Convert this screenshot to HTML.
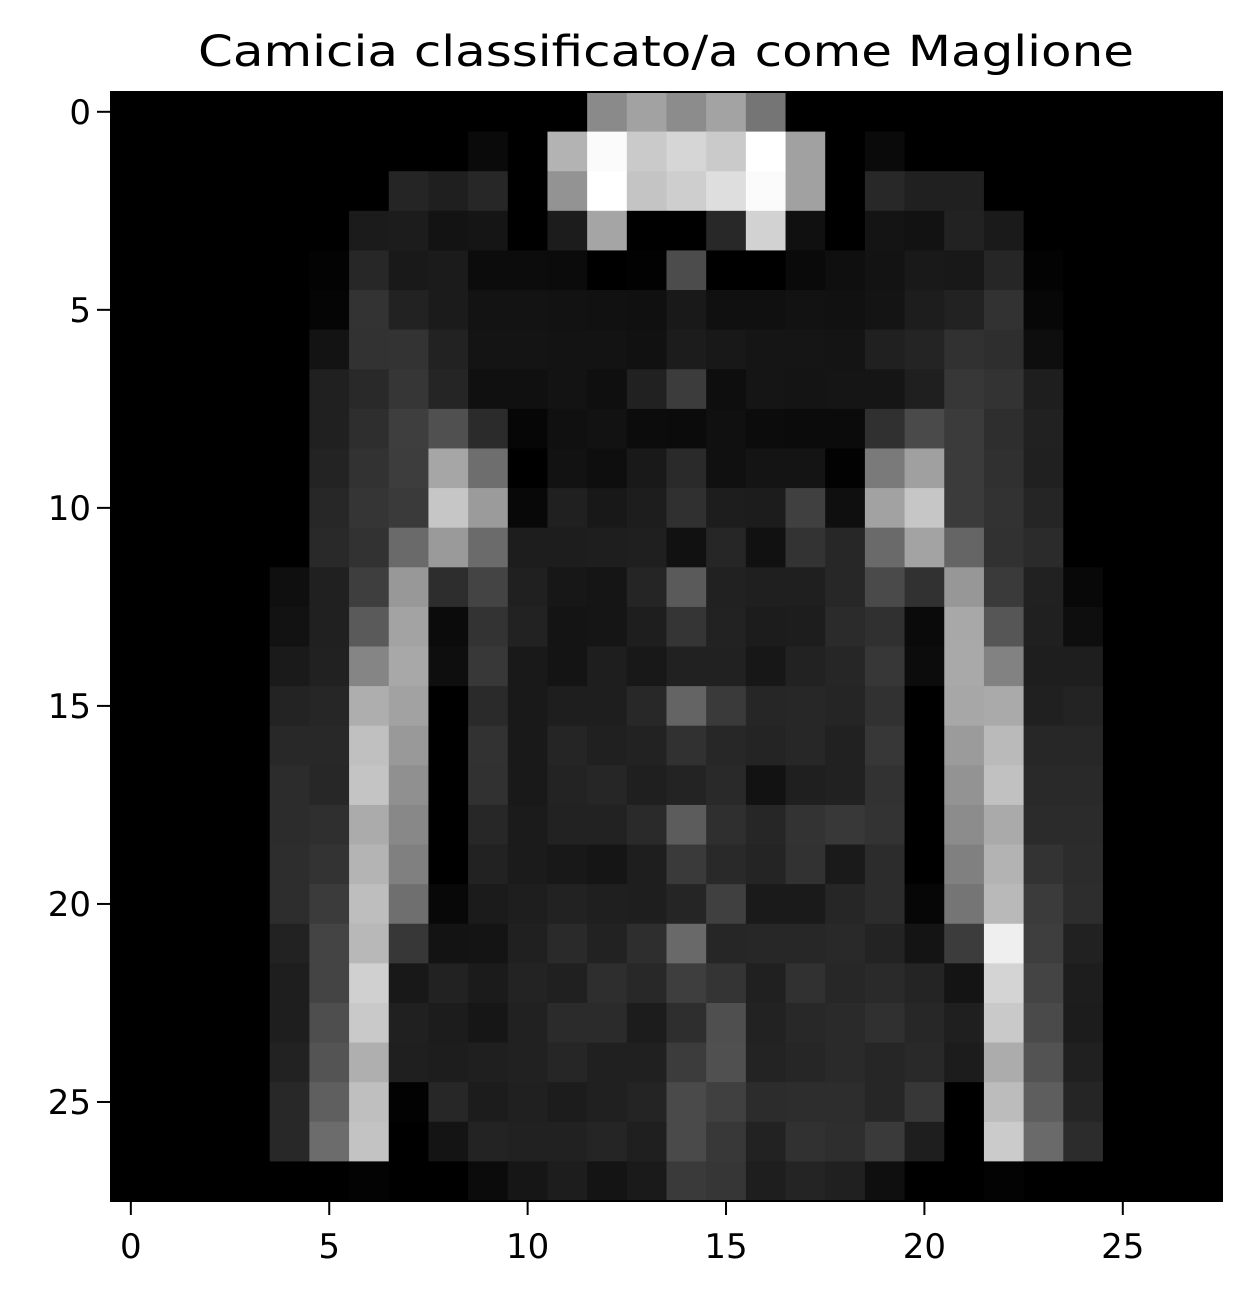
<!DOCTYPE html>
<html><head><meta charset="utf-8"><style>
html,body{margin:0;padding:0;background:#fff;}
svg{display:block;font-family:"DejaVu Sans","Liberation Sans",sans-serif;}
</style></head><body>
<svg id="chart" width="1250" height="1302" viewBox="0 0 1250 1302">
<text x="666" y="66" font-size="43" text-anchor="middle" fill="#000" textLength="936" lengthAdjust="spacingAndGlyphs">Camicia classificato/a come Maglione</text>
<g id="cells"></g>
<g id="axes"></g>
</svg>
<script>
const pixelRows = [
[0,0,0,0,0,0,0,0,0,0,0,0,0x8a,0xa2,0x8c,0xa3,0x75,0,0,0,0,0,0,0,0,0,0,0],
[0,0,0,0,0,0,0,0,0,0x0a,0,0xb3,0xfb,0xca,0xd6,0xca,0xff,0xa1,0,0x0a,0,0,0,0,0,0,0,0],
[0,0,0,0,0,0,0,0x25,0x1f,0x27,0,0x93,0xff,0xc4,0xce,0xde,0xfb,0xa1,0,0x28,0x20,0x20,0,0,0,0,0,0],
[0,0,0,0,0,0,0x1b,0x1c,0x13,0x15,0,0x1c,0xa5,0,0,0x28,0xd2,0x10,0,0x14,0x12,0x22,0x1a,0,0,0,0,0],
[0,0,0,0,0,3,0x27,0x19,0x1b,0x0c,0x0c,0x0b,0,2,0x4c,0,0,0x0a,0x0f,0x13,0x19,0x18,0x26,3,0,0,0,0],
[0,0,0,0,0,5,0x33,0x22,0x1b,0x13,0x13,0x12,0x11,0x10,0x19,0x10,0x10,0x12,0x11,0x14,0x1d,0x22,0x32,7,0,0,0,0],
[0,0,0,0,0,0x13,0x32,0x33,0x22,0x14,0x14,0x13,0x13,0x11,0x1c,0x18,0x15,0x15,0x14,0x20,0x24,0x31,0x2e,0x0e,0,0,0,0],
[0,0,0,0,0,0x20,0x29,0x36,0x25,0x10,0x10,0x13,0x0f,0x21,0x3c,0x0e,0x15,0x14,0x15,0x15,0x1f,0x37,0x33,0x1e,0,0,0,0],
[0,0,0,0,0,0x20,0x2e,0x3e,0x50,0x2b,6,0x10,0x12,0x0c,0x0b,0x10,0x0c,0x0b,0x0b,0x30,0x4a,0x3b,0x2e,0x21,0,0,0,0],
[0,0,0,0,0,0x23,0x32,0x3d,0xa6,0x6e,0,0x12,0x0e,0x19,0x2a,0x10,0x14,0x14,2,0x7a,0xa0,0x3b,0x30,0x20,0,0,0,0],
[0,0,0,0,0,0x27,0x35,0x3a,0xc6,0x9b,8,0x20,0x18,0x1d,0x30,0x1d,0x1c,0x40,0x0f,0xa2,0xc6,0x3b,0x32,0x25,0,0,0,0],
[0,0,0,0,0,0x29,0x32,0x6a,0x9a,0x6b,0x1d,0x1d,0x1e,0x1f,0x11,0x26,0x11,0x33,0x27,0x6a,0xa3,0x65,0x31,0x2b,0,0,0,0],
[0,0,0,0,0x0f,0x20,0x3e,0x98,0x2d,0x44,0x20,0x17,0x15,0x25,0x5a,0x21,0x1f,0x1f,0x27,0x4a,0x31,0x97,0x3a,0x21,8,0,0,0],
[0,0,0,0,0x12,0x20,0x5a,0xa3,0x0b,0x33,0x22,0x14,0x15,0x1e,0x35,0x22,0x1c,0x1d,0x2b,0x30,0x0a,0xa8,0x56,0x20,0x0e,0,0,0],
[0,0,0,0,0x1a,0x21,0x85,0xa8,0x0e,0x38,0x19,0x14,0x1e,0x18,0x21,0x21,0x17,0x22,0x26,0x37,0x0c,0xa9,0x82,0x1e,0x1e,0,0,0],
[0,0,0,0,0x23,0x26,0xae,0xa2,0,0x2a,0x19,0x1e,0x1e,0x28,0x64,0x3a,0x26,0x27,0x25,0x31,0,0xa7,0xaa,0x20,0x23,0,0,0],
[0,0,0,0,0x28,0x28,0xc0,0x99,0,0x32,0x19,0x25,0x20,0x22,0x31,0x27,0x24,0x27,0x21,0x37,0,0x9b,0xba,0x27,0x27,0,0,0],
[0,0,0,0,0x2c,0x27,0xc4,0x90,0,0x31,0x19,0x23,0x26,0x1f,0x23,0x29,0x12,0x1f,0x21,0x32,0,0x93,0xc1,0x29,0x29,0,0,0],
[0,0,0,0,0x2c,0x2f,0xab,0x88,0,0x27,0x1b,0x22,0x22,0x2a,0x5c,0x2f,0x26,0x33,0x38,0x33,0,0x8c,0xaa,0x2b,0x2b,0,0,0],
[0,0,0,0,0x2d,0x33,0xb4,0x80,0,0x22,0x1b,0x18,0x15,0x1e,0x3a,0x29,0x24,0x32,0x1a,0x2c,0,0x80,0xb3,0x33,0x2c,0,0,0],
[0,0,0,0,0x2d,0x3b,0xbe,0x6f,8,0x1b,0x1e,0x22,0x1f,0x1e,0x25,0x40,0x1a,0x1a,0x26,0x2c,6,0x75,0xb9,0x3b,0x2d,0,0,0],
[0,0,0,0,0x22,0x44,0xb8,0x37,0x13,0x14,0x20,0x2a,0x22,0x2e,0x69,0x26,0x27,0x27,0x29,0x23,0x14,0x3c,0xef,0x3e,0x21,0,0,0],
[0,0,0,0,0x1e,0x44,0xd0,0x18,0x22,0x1b,0x23,0x20,0x2e,0x28,0x3e,0x34,0x20,0x31,0x27,0x2a,0x24,0x14,0xd4,0x44,0x1d,0,0,0],
[0,0,0,0,0x1e,0x4e,0xc9,0x20,0x1c,0x16,0x21,0x2b,0x2b,0x1c,0x2e,0x4f,0x22,0x28,0x2a,0x30,0x27,0x1f,0xc9,0x4a,0x1c,0,0,0],
[0,0,0,0,0x22,0x54,0xaf,0x1f,0x1d,0x1f,0x21,0x26,0x20,0x20,0x3c,0x50,0x23,0x26,0x2a,0x26,0x29,0x1c,0xac,0x53,0x20,0,0,0],
[0,0,0,0,0x28,0x5f,0xbf,2,0x27,0x1c,0x20,0x1c,0x20,0x24,0x4a,0x40,0x2c,0x2d,0x2d,0x26,0x37,0,0xbc,0x5e,0x25,0,0,0],
[0,0,0,0,0x28,0x6c,0xc3,0,0x14,0x23,0x21,0x21,0x25,0x1f,0x4a,0x38,0x22,0x31,0x2e,0x3a,0x1e,0,0xcb,0x6a,0x2c,0,0,0],
[0,0,0,0,0,0,3,0,0,0x0b,0x16,0x1d,0x14,0x1a,0x3a,0x36,0x1e,0x24,0x20,0x0f,0,0,3,0,0,0,0,0]
];
const xTicks = [0,5,10,15,20,25];
const yTicks = [0,5,10,15,20,25];

const NS = "http://www.w3.org/2000/svg";
const L = 111, R = 1222, T = 92, B = 1201;
const nCols = pixelRows[0].length, nRows = pixelRows.length;
const cw = (R - L) / nCols, ch = (B - T) / nRows;
const xPos = c => L + (c + 0.5) * cw;
const yPos = r => T + (r + 0.5) * ch;
const vmin = Math.min(...pixelRows.flat()), vmax = Math.max(...pixelRows.flat());
const gray = v => { const g = Math.round((v - vmin) / ((vmax - vmin) || 1) * 255); return `rgb(${g},${g},${g})`; };

const cells = document.getElementById('cells');
pixelRows.forEach((row, r) => row.forEach((v, c) => {
  const el = document.createElementNS(NS, 'rect');
  
  
  el.setAttribute('x', (xPos(c) - cw / 2).toFixed(2));
  el.setAttribute('y', (yPos(r) - ch / 2).toFixed(2));
  el.setAttribute('width', (cw + 0.6).toFixed(2));
  el.setAttribute('height', (ch + 0.6).toFixed(2));
  el.setAttribute('fill', gray(v));
  cells.appendChild(el);
}));

const axes = document.getElementById('axes');
const frame = document.createElementNS(NS, 'rect');


frame.setAttribute('x', L); frame.setAttribute('y', T);
frame.setAttribute('width', R - L); frame.setAttribute('height', B - T);
frame.setAttribute('fill', 'none'); frame.setAttribute('stroke', '#000'); frame.setAttribute('stroke-width', '2');
axes.appendChild(frame);

xTicks.forEach(t => {
  const x = xPos(t);
  const ln = document.createElementNS(NS, 'line');
  
  
  ln.setAttribute('x1', x); ln.setAttribute('x2', x);
  ln.setAttribute('y1', B); ln.setAttribute('y2', B + 14);
  ln.setAttribute('stroke', '#000'); ln.setAttribute('stroke-width', '2');
  axes.appendChild(ln);
  const tx = document.createElementNS(NS, 'text');
  
  
  tx.setAttribute('x', x); tx.setAttribute('y', B + 57);
  tx.setAttribute('font-size', '34'); tx.setAttribute('text-anchor', 'middle');
  tx.textContent = t;
  axes.appendChild(tx);
});
yTicks.forEach(t => {
  const y = yPos(t);
  const ln = document.createElementNS(NS, 'line');
  
  
  ln.setAttribute('x1', L - 14); ln.setAttribute('x2', L);
  ln.setAttribute('y1', y); ln.setAttribute('y2', y);
  ln.setAttribute('stroke', '#000'); ln.setAttribute('stroke-width', '2');
  axes.appendChild(ln);
  const tx = document.createElementNS(NS, 'text');
  
  
  tx.setAttribute('x', L - 20); tx.setAttribute('y', y + 12);
  tx.setAttribute('font-size', '34'); tx.setAttribute('text-anchor', 'end');
  tx.textContent = t;
  axes.appendChild(tx);
});
</script>
</body></html>
